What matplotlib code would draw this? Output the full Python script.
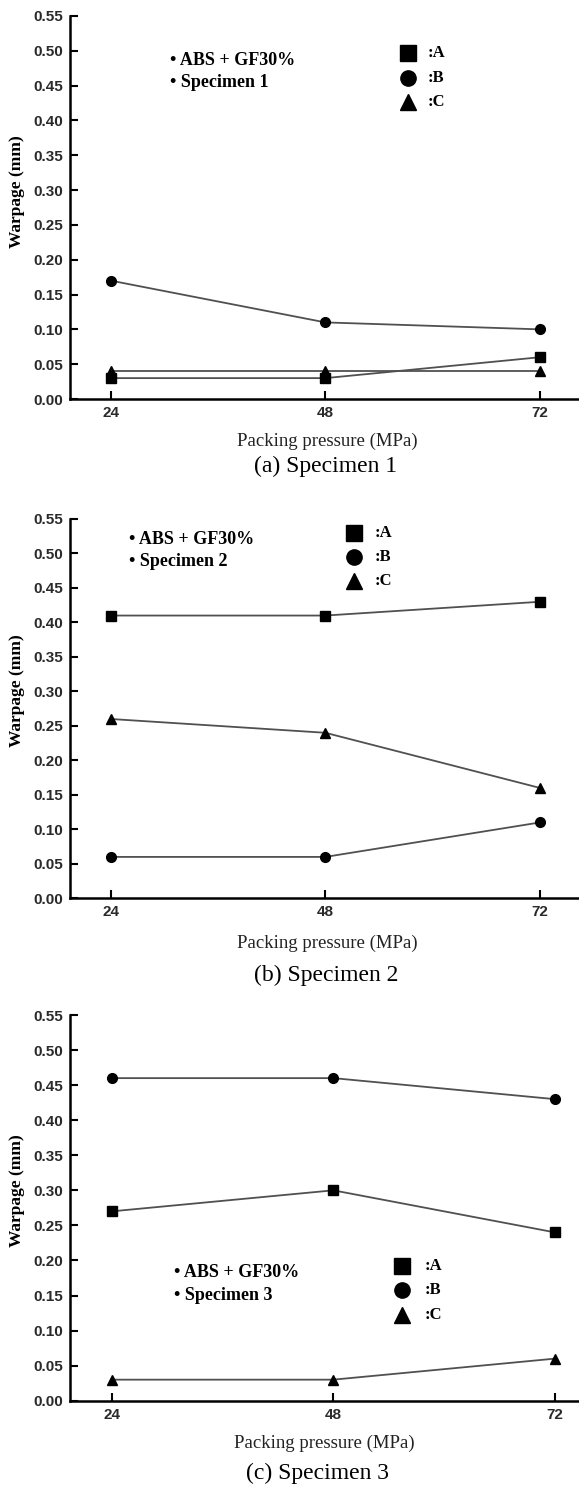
import matplotlib
matplotlib.use("Agg")
import matplotlib.pyplot as plt

# packing pressure (MPa) and warpage (mm) for the three specimens
pressure = [24, 48, 72]

spec1_A = [0.03, 0.03, 0.06]
spec1_B = [0.17, 0.11, 0.10]
spec1_C = [0.04, 0.04, 0.04]

spec2_A = [0.41, 0.41, 0.43]
spec2_B = [0.06, 0.06, 0.11]
spec2_C = [0.26, 0.24, 0.16]

spec3_A = [0.27, 0.30, 0.24]
spec3_B = [0.46, 0.46, 0.43]
spec3_C = [0.03, 0.03, 0.06]

yticks = [0.00, 0.05, 0.10, 0.15, 0.20, 0.25, 0.30, 0.35, 0.40, 0.45, 0.50, 0.55]
series_names = ["A", "B", "C"]
markers = ["s", "o", "^"]

SERIF = "Liberation Serif"
SANS = "Liberation Sans"

fig = plt.figure(figsize=(5.79, 14.88), dpi=100)


def draw_panel(rect, xlim, data, specimen, note_pos, key_pos, ylab_y, xlab_pos, cap_pos, caption):
    ax = fig.add_axes(rect)
    for vals, m in zip(data, markers):
        ax.plot(pressure, vals, color="#505050", lw=1.3, marker=m, ms=7,
                mfc="black", mec="black", clip_on=False, zorder=3)

    ax.set_xlim(*xlim)
    ax.set_ylim(0, 0.55)
    ax.set_xticks(pressure)
    ax.set_yticks(yticks)
    ax.set_yticklabels(["%.2f" % v for v in yticks])
    for s in ["top", "right"]:
        ax.spines[s].set_visible(False)
    for s in ["left", "bottom"]:
        ax.spines[s].set_linewidth(1.8)
    ax.tick_params(direction="in", length=6, width=1.5, pad=5, labelsize=11)
    for lab in ax.get_xticklabels() + ax.get_yticklabels():
        lab.set_fontfamily(SANS)
        lab.set_fontweight("bold")
        lab.set_color("#2a2a2a")

    # material / specimen note
    nx, ny1, ny2 = note_pos
    ax.text(nx, ny1, "\u2022 ABS + GF30%", transform=ax.transAxes, family=SERIF,
            weight="bold", fontsize=13, va="center", ha="left")
    ax.text(nx, ny2, "\u2022 Specimen %d" % specimen, transform=ax.transAxes, family=SERIF,
            weight="bold", fontsize=13, va="center", ha="left")

    # marker key
    kx, tx, kys = key_pos
    for m, name, ky in zip(markers, series_names, kys):
        ax.plot([kx], [ky], marker=m, ms=11, color="black", transform=ax.transAxes,
                clip_on=False)
        ax.text(tx, ky, ":" + name, transform=ax.transAxes, family=SERIF,
                weight="bold", fontsize=12, va="center", ha="left")

    fig.text(0.0287, ylab_y, "Warpage (mm)", rotation=90, family=SERIF,
             weight="bold", fontsize=12.5, ha="center", va="center")
    fig.text(xlab_pos[0], xlab_pos[1], "Packing pressure (MPa)", family=SERIF,
             fontsize=13.5, ha="center", va="center", color="#222222")
    fig.text(cap_pos[0], cap_pos[1], caption, family=SERIF,
             fontsize=17, ha="center", va="center")
    return ax


draw_panel([0.1209, 0.73185, 0.8791, 0.2574], (19.44, 76.36),
           [spec1_A, spec1_B, spec1_C], 1,
           (0.1965, 0.885, 0.826), (0.664, 0.703, [0.903, 0.837, 0.776]),
           0.8713, (0.565, 0.7032), (0.563, 0.6864), "(a) Specimen 1")

draw_panel([0.1209, 0.39631, 0.8791, 0.2549], (19.44, 76.36),
           [spec2_A, spec2_B, spec2_C], 2,
           (0.116, 0.946, 0.887), (0.557, 0.599, [0.964, 0.901, 0.837]),
           0.5358, (0.565, 0.3663), (0.563, 0.3448), "(b) Specimen 2")

draw_panel([0.1209, 0.05867, 0.8791, 0.2592], (19.48, 74.6),
           [spec3_A, spec3_B, spec3_C], 3,
           (0.2035, 0.332, 0.274), (0.653, 0.697, [0.350, 0.287, 0.222]),
           0.1996, (0.5596, 0.0302), (0.5475, 0.0101), "(c) Specimen 3")

fig.savefig("out.png", dpi=100)
